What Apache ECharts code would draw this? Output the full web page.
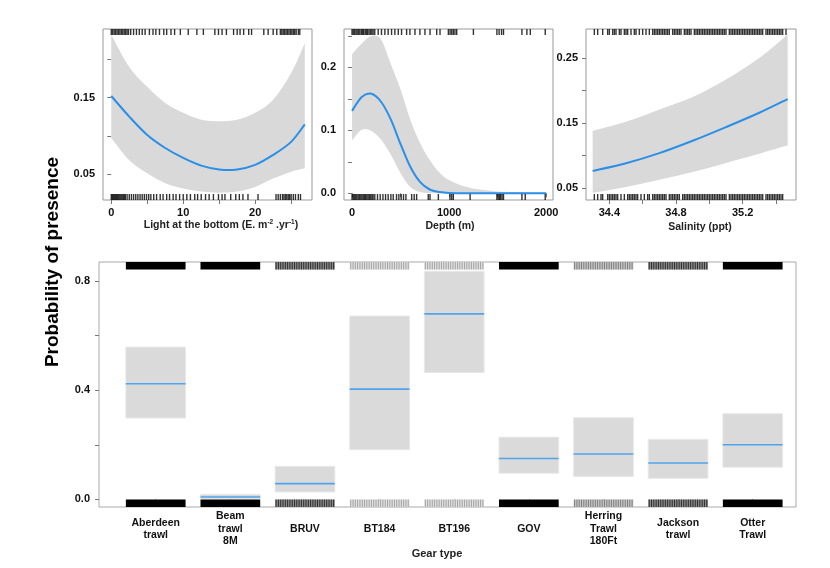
<!DOCTYPE html>
<html>
<head>
<meta charset="utf-8">
<script src="https://cdn.jsdelivr.net/npm/echarts@6/dist/echarts.min.js"></script>
<style>
  html, body { margin: 0; padding: 0; background: #fff; }
  #chart { width: 830px; height: 568px; }
</style>
</head>
<body>
<div id="chart"></div>
<script>
// light at the bottom
var lightX = [0, 2.5, 5, 7.5, 10, 12.5, 15, 17.5, 20, 22.5, 25, 26.9];
var lightFit = [0.152, 0.125, 0.101, 0.084, 0.071, 0.061, 0.056, 0.056, 0.062, 0.075, 0.092, 0.115];
var lightUpper = [0.232, 0.190, 0.164, 0.143, 0.130, 0.121, 0.119, 0.121, 0.130, 0.147, 0.182, 0.221];
var lightLower = [0.097, 0.068, 0.051, 0.038, 0.031, 0.027, 0.0255, 0.027, 0.033, 0.044, 0.053, 0.0575];
var lightRugPresent = [0, 0.2, 0.4, 0.6, 0.8, 1.0, 1.2, 1.4, 1.6, 1.8, 2.0, 2.2, 2.4, 2.7, 3.1, 3.5, 3.9, 4.3, 4.7,
  5.3, 5.8, 6.2, 6.7, 7.3, 7.7, 8.3, 8.8, 9.6, 10.7, 11.9, 12.8, 14.4, 14.9, 15.4, 16.0, 17.0, 17.5, 17.9,
  18.4, 19.1, 19.5, 21.2, 21.8, 22.5, 23.0, 23.5, 23.7, 23.9, 24.1, 24.3, 24.5, 24.7, 24.9, 25.1, 25.3, 25.5, 25.7, 26.0, 26.2];
var lightRugAbsent = [0, 0.15, 0.3, 0.45, 0.6, 0.75, 0.9, 1.05, 1.2, 1.35, 1.5, 1.65, 1.8, 1.95, 2.2, 2.5, 2.8, 3.1, 3.4,
  3.7, 4.0, 4.3, 4.6, 4.9, 5.2, 5.5, 5.9, 6.3, 6.8, 7.2, 7.7, 8.1, 8.6, 9.0, 9.5, 10.0, 10.5, 11.0, 11.6, 12.0,
  12.5, 13.1, 13.6, 14.2, 14.9, 15.4, 15.8, 16.6, 17.3, 17.8, 18.3, 19.0, 20.4, 22.9, 23.2, 23.5, 23.8, 24.0, 24.2,
  24.4, 24.6, 24.8, 25.0, 25.3, 25.6, 26.0, 26.3];

// depth
var depthX = [0, 100, 200, 300, 400, 500, 600, 700, 800, 900, 1000, 1200, 1500, 2000];
var depthFit = [0.131, 0.153, 0.158, 0.145, 0.117, 0.078, 0.042, 0.018, 0.006, 0.002, 0.0005, 0, 0, 0];
var depthUpper = [0.221, 0.238, 0.250, 0.244, 0.205, 0.165, 0.117, 0.080, 0.053, 0.033, 0.021, 0.009, 0.003, 0.001];
var depthLower = [0.084, 0.101, 0.099, 0.085, 0.061, 0.032, 0.010, 0.002, 0.0003, 0, 0, 0, 0, 0];
var depthRugPresent = [0, 12, 25, 40, 52, 66, 80, 95, 108, 120, 135, 148, 160, 175, 190, 204, 217, 234, 269, 303,
  338, 372, 407, 441, 476, 510, 562, 596, 648, 699, 751, 803, 872, 906, 992, 1010, 1027, 1043, 1060, 1078, 1250,
  1492, 1515, 1540, 1560, 1750, 1801, 1836, 1990];
var depthRugAbsent = [0, 12, 25, 38, 50, 63, 76, 90, 102, 115, 128, 140, 153, 166, 180, 193, 206, 217, 234, 262,
  290, 318, 345, 372, 400, 424, 458, 482, 506, 530, 555, 614, 640, 665, 785, 803, 889, 1009, 1027, 1043, 1216,
  1492, 1505, 1518, 1530, 1545, 1560, 1750, 1784, 1990];

// salinity
var salX = [34.3, 34.5, 34.7, 34.9, 35.1, 35.3, 35.47];
var salFit = [0.0766, 0.0885, 0.104, 0.123, 0.144, 0.166, 0.187];
var salUpper = [0.138, 0.152, 0.171, 0.190, 0.217, 0.250, 0.286];
var salLower = [0.043, 0.052, 0.063, 0.075, 0.089, 0.103, 0.116];
var salRugPresent = [34.31, 34.33, 34.36, 34.39, 34.40, 34.42, 34.43, 34.44, 34.46, 34.47, 34.49, 34.50, 34.51,
  34.53, 34.55, 34.56, 34.58, 34.60, 34.62, 34.64, 34.66, 34.67, 34.68, 34.69, 34.70, 34.71, 34.72, 34.73, 34.74,
  34.75, 34.76, 34.78, 34.79, 34.80, 34.81, 34.82, 34.83, 34.85, 34.86, 34.87, 34.88, 34.89, 34.91, 34.92, 34.93,
  34.94, 34.95, 34.96, 34.97, 34.98, 34.99, 35.00, 35.01, 35.02, 35.03, 35.04, 35.05, 35.06, 35.07, 35.08, 35.09,
  35.10, 35.12, 35.13, 35.14, 35.15, 35.16, 35.17, 35.18, 35.19, 35.20, 35.21, 35.22, 35.23, 35.24, 35.25, 35.26,
  35.27, 35.28, 35.29, 35.30, 35.31, 35.32, 35.34, 35.35, 35.36, 35.37, 35.38, 35.39, 35.40, 35.41, 35.42, 35.43,
  35.44, 35.46];
var salRugAbsent = [34.31, 34.33, 34.35, 34.36, 34.39, 34.40, 34.41, 34.42, 34.43, 34.44, 34.45, 34.47, 34.49,
  34.51, 34.52, 34.53, 34.54, 34.55, 34.56, 34.57, 34.59, 34.61, 34.63, 34.64, 34.66, 34.67, 34.68, 34.69, 34.70,
  34.71, 34.72, 34.73, 34.74, 34.76, 34.77, 34.78, 34.79, 34.80, 34.81, 34.82, 34.84, 34.85, 34.86, 34.87, 34.88,
  34.89, 34.90, 34.91, 34.92, 34.93, 34.94, 34.95, 34.96, 34.97, 34.98, 34.99, 35.00, 35.01, 35.02, 35.03, 35.04,
  35.05, 35.06, 35.07, 35.08, 35.09, 35.10, 35.12, 35.13, 35.14, 35.15, 35.16, 35.17, 35.18, 35.19, 35.20, 35.21,
  35.22, 35.23, 35.24, 35.25, 35.26, 35.27, 35.28, 35.29, 35.30, 35.31, 35.32, 35.34, 35.35, 35.36, 35.37, 35.38,
  35.39, 35.40, 35.41, 35.42, 35.43, 35.44];

// gear type
var gearTypes = ['Aberdeen\ntrawl', 'Beam\ntrawl\n8M', 'BRUV', 'BT184', 'BT196', 'GOV', 'Herring\nTrawl\n180Ft', 'Jackson\ntrawl', 'Otter\nTrawl'];
var gearFit = [0.424, 0.0085, 0.0575, 0.404, 0.680, 0.150, 0.166, 0.133, 0.200];
var gearUpper = [0.558, 0.018, 0.121, 0.672, 0.836, 0.228, 0.299, 0.220, 0.314];
var gearLower = [0.298, 0.002, 0.027, 0.182, 0.465, 0.096, 0.084, 0.077, 0.118];

var FONT = 'Liberation Sans, Arial, sans-serif';
var BLUE = '#2a8fe6';
var BAND = '#d9d9d9';
// how dense the rug looks for each gear (just a look)
var rugLook = ['solid', 'solid', 'dark', 'light', 'light', 'solid', 'mid', 'dark', 'solid'];
var rugColors = {
  solid: { base: '#000', stripe: null },
  dark: { base: '#8c8c8c', stripe: '#2e2e2e' },
  mid: { base: '#c8c8c8', stripe: '#7d7d7d' },
  light: { base: '#e2e2e2', stripe: '#a2a2a2' }
};

// catmull-rom through pixel points -> svg curve commands
function curveTo(pts) {
  var d = '';
  for (var i = 0; i < pts.length - 1; i++) {
    var p0 = pts[i - 1] || pts[i], p1 = pts[i], p2 = pts[i + 1], p3 = pts[i + 2] || p2;
    var c1 = [p1[0] + (p2[0] - p0[0]) / 6, p1[1] + (p2[1] - p0[1]) / 6];
    var c2 = [p2[0] - (p3[0] - p1[0]) / 6, p2[1] - (p3[1] - p1[1]) / 6];
    d += ' C' + c1[0] + ',' + c1[1] + ' ' + c2[0] + ',' + c2[1] + ' ' + p2[0] + ',' + p2[1];
  }
  return d;
}

function curveSeries(g, xs, fit, up, lo) {
  return {
    type: 'custom', xAxisIndex: g, yAxisIndex: g, silent: true, z: 3,
    data: xs.map(function (x, i) { return [x, lo[i], up[i], fit[i]]; }),
    renderItem: function (params, api) {
      if (params.dataIndex !== 0) return;
      var upPts = xs.map(function (x, i) { return api.coord([x, up[i]]); });
      var loPts = xs.map(function (x, i) { return api.coord([x, lo[i]]); }).reverse();
      var fitPts = xs.map(function (x, i) { return api.coord([x, fit[i]]); });
      var band = 'M' + upPts[0][0] + ',' + upPts[0][1] + curveTo(upPts) +
        ' L' + loPts[0][0] + ',' + loPts[0][1] + curveTo(loPts) + ' Z';
      var line = 'M' + fitPts[0][0] + ',' + fitPts[0][1] + curveTo(fitPts);
      return { type: 'group', children: [
        { type: 'path', shape: { pathData: band }, style: { fill: BAND, stroke: null } },
        { type: 'path', shape: { pathData: line }, style: { fill: null, stroke: BLUE, lineWidth: 2 } }
      ] };
    }
  };
}

function rugSeries(g, xs, top) {
  return {
    type: 'scatter', xAxisIndex: g, yAxisIndex: 4 + g, silent: true,
    data: xs.map(function (v) { return [v, top ? 1 : 0]; }),
    symbol: 'rect', symbolSize: [1.4, 6], symbolOffset: [0, top ? 3 : -3],
    itemStyle: { color: '#000' }, z: 6
  };
}

var tickLabel = { fontFamily: FONT, fontWeight: 'bold', fontSize: 11, color: '#111' };
var nameStyle = { fontFamily: FONT, fontWeight: 'bold', fontSize: 10.5, color: '#222' };

function valX(g, min, max, ticks, labels, fmt, name, gap, shift) {
  return {
    type: 'value', gridIndex: g, min: min, max: max,
    name: name, nameLocation: 'middle', nameGap: gap,
    nameTextStyle: Object.assign({}, nameStyle, { padding: shift }),
    axisLine: { show: false },
    axisTick: { show: true, length: 4, customValues: ticks, lineStyle: { color: '#777' } },
    axisLabel: Object.assign({ customValues: labels, margin: 7, formatter: fmt }, tickLabel),
    splitLine: { show: false }
  };
}
function valY(g, min, max, ticks, labels, fmt, margin) {
  return {
    type: 'value', gridIndex: g, min: min, max: max,
    axisLine: { show: false },
    axisTick: { show: true, length: 4, customValues: ticks, lineStyle: { color: '#777' } },
    axisLabel: Object.assign({ customValues: labels, margin: margin, formatter: fmt }, tickLabel),
    splitLine: { show: false }
  };
}
function plain(v) { return String(v); }
function oneDec(v) { return v.toFixed(1); }
function twoDec(v) { return v.toFixed(2); }

var gearData = gearTypes.map(function (n, i) { return [i + 1, gearLower[i], gearUpper[i], gearFit[i]]; });

var option = {
  animation: false,
  backgroundColor: '#fff',
  grid: [
    { left: 103, top: 29, width: 209, height: 171, show: true, borderColor: '#999', borderWidth: 1 },
    { left: 344, top: 29, width: 209, height: 171, show: true, borderColor: '#999', borderWidth: 1 },
    { left: 586, top: 29, width: 210, height: 171, show: true, borderColor: '#999', borderWidth: 1 },
    { left: 99, top: 262, width: 697, height: 245, show: true, borderColor: '#aaa', borderWidth: 1 }
  ],
  xAxis: [
    Object.assign(valX(0, -1.15, 27.9, [0, 5, 10, 15, 20, 25], [0, 10, 20], plain,
      '{n|Light at the bottom (E. m}{s|-2}{n| .yr}{s|-1}{n|)}', 19, [0, 0, 0, 27]), {
      nameTextStyle: { padding: [0, 0, 0, 27], rich: {
        n: { fontFamily: FONT, fontWeight: 'bold', fontSize: 10.5, color: '#222', lineHeight: 13 },
        s: { fontFamily: FONT, fontWeight: 'bold', fontSize: 6.5, color: '#222', lineHeight: 13, verticalAlign: 'top' }
      } }
    }),
    valX(1, -83, 2070, [0, 500, 1000, 1500, 2000], [0, 1000, 2000], plain, 'Depth (m)', 21, [0, 0, 0, 3]),
    valX(2, 34.26, 35.52, [34.4, 34.6, 34.8, 35.0, 35.2, 35.4], [34.4, 34.8, 35.2], oneDec, 'Salinity (ppt)', 22, [0, 0, 0, 18]),
    Object.assign(valX(3, 0.24, 9.58, [1, 2, 3, 4, 5, 6, 7, 8, 9], [1, 2, 3, 4, 5, 6, 7, 8, 9],
      function (v) { return gearTypes[Math.round(v) - 1]; }, 'Gear type', 39, [0, 21, 0, 0]), {
      axisLabel: Object.assign({ customValues: [1, 2, 3, 4, 5, 6, 7, 8, 9], margin: 22, verticalAlign: 'middle',
        lineHeight: 12.5, fontSize: 10.5,
        formatter: function (v) { return gearTypes[Math.round(v) - 1]; } },
        { fontFamily: FONT, fontWeight: 'bold', color: '#111' }),
      nameTextStyle: Object.assign({}, nameStyle, { fontSize: 11, padding: [0, 21, 0, 0] })
    })
  ],
  yAxis: [
    valY(0, 0.016, 0.2396, [0.05, 0.10, 0.15, 0.20], [0.05, 0.15], twoDec, 8),
    valY(1, -0.0107, 0.261, [0, 0.05, 0.10, 0.15, 0.20, 0.25], [0, 0.1, 0.2], oneDec, 8),
    valY(2, 0.032, 0.2946, [0.05, 0.10, 0.15, 0.20, 0.25], [0.05, 0.15, 0.25], twoDec, 8),
    valY(3, -0.028, 0.87, [0, 0.2, 0.4, 0.6, 0.8], [0, 0.4, 0.8], oneDec, 9),
    { type: 'value', gridIndex: 0, min: 0, max: 1, show: false },
    { type: 'value', gridIndex: 1, min: 0, max: 1, show: false },
    { type: 'value', gridIndex: 2, min: 0, max: 1, show: false }
  ],
  graphic: [{
    type: 'text', x: 53, y: 262, rotation: Math.PI / 2,
    style: { text: 'Probability of presence', font: 'bold 19px ' + FONT, fill: '#000',
      textAlign: 'center', textVerticalAlign: 'middle' }
  }],
  series: [
    curveSeries(0, lightX, lightFit, lightUpper, lightLower),
    curveSeries(1, depthX, depthFit, depthUpper, depthLower),
    curveSeries(2, salX, salFit, salUpper, salLower),
    rugSeries(0, lightRugPresent, true), rugSeries(0, lightRugAbsent, false),
    rugSeries(1, depthRugPresent, true), rugSeries(1, depthRugAbsent, false),
    rugSeries(2, salRugPresent, true), rugSeries(2, salRugAbsent, false),
    {
      // confidence boxes + fitted level for each gear
      type: 'custom', xAxisIndex: 3, yAxisIndex: 3, silent: true, data: gearData,
      renderItem: function (params, api) {
        var i = api.value(0);
        var lo = api.coord([i - 0.4, api.value(1)]);
        var hi = api.coord([i + 0.4, api.value(2)]);
        var f = api.coord([i, api.value(3)]);
        return { type: 'group', children: [
          { type: 'rect', shape: { x: lo[0], y: hi[1], width: hi[0] - lo[0], height: lo[1] - hi[1] },
            style: { fill: '#dadada', stroke: '#e8e8e8', lineWidth: 1 } },
          { type: 'line', shape: { x1: lo[0], y1: f[1], x2: hi[0], y2: f[1] },
            style: { stroke: '#4ea4ee', lineWidth: 1.6 } }
        ] };
      }
    },
    {
      // rug blocks for the factor levels
      type: 'custom', xAxisIndex: 3, yAxisIndex: 3, silent: true, z: 6,
      data: gearTypes.map(function (n, i) { return [i + 1, 0]; }),
      renderItem: function (params, api) {
        var i = api.value(0);
        var cs = params.coordSys;
        var l = api.coord([i - 0.4, 0])[0];
        var r = api.coord([i + 0.4, 0])[0];
        var h = 7.5;
        var look = rugColors[rugLook[params.dataIndex]];
        var kids = [];
        [cs.y, cs.y + cs.height - h].forEach(function (y0) {
          kids.push({ type: 'rect', shape: { x: l, y: y0, width: r - l, height: h }, style: { fill: look.base } });
          if (look.stripe) {
            for (var x = l + 1; x < r; x += 2.3) {
              kids.push({ type: 'line', shape: { x1: x, y1: y0, x2: x, y2: y0 + h },
                style: { stroke: look.stripe, lineWidth: 1 } });
            }
          }
        });
        return { type: 'group', children: kids };
      }
    }
  ]
};

var chart = echarts.init(document.getElementById('chart'));
chart.setOption(option);
</script>
</body>
</html>
